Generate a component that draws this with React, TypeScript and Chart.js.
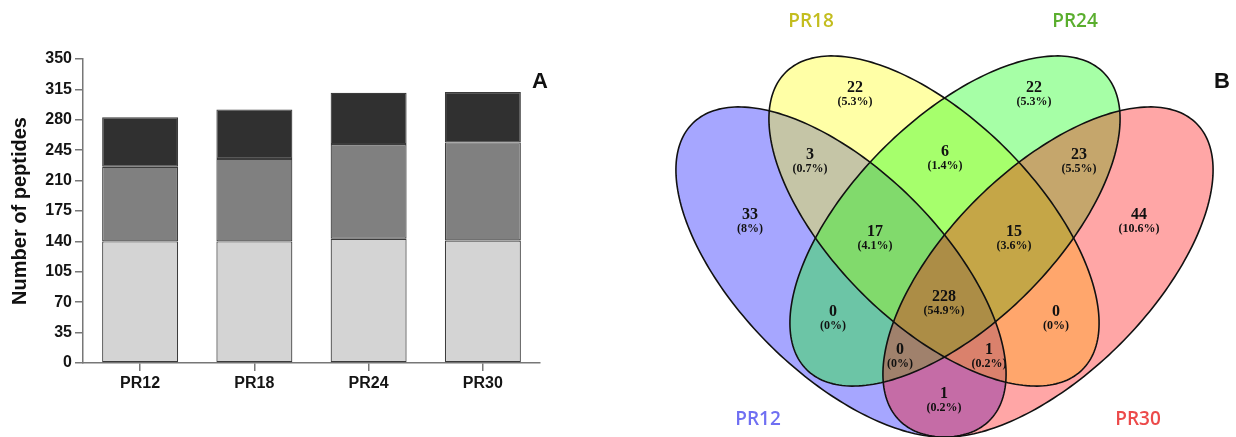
import React, { useEffect, useRef } from "react";
import { Chart, registerables } from "chart.js";

Chart.register(...registerables);

// ---------- Panel A data ----------
const categories = ["PR12", "PR18", "PR24", "PR30"];
const lowerSegment = [140, 140, 143, 141];
const middleSegment = [86, 95, 109, 113];
const upperSegment = [57, 57, 59, 58];
const yTickValues = [0, 35, 70, 105, 140, 175, 210, 245, 280, 315, 350];

// ---------- Panel B data ----------
const vennSetNames = ["PR12", "PR18", "PR24", "PR30"];
// regions: B, Y, G, R, BY, YG, GR, BYG, YGR, BG, BYGR, YR, BGR, BYR, BR
const vennRegionCounts = [33, 22, 22, 44, 3, 6, 23, 17, 15, 0, 228, 0, 0, 1, 1];
const vennRegionPercents = ["8%", "5.3%", "5.3%", "10.6%", "0.7%", "1.4%", "5.5%", "4.1%", "3.6%", "0%", "54.9%", "0%", "0%", "0.2%", "0.2%"];

// ---------- Panel B geometry (page-pixel data space) ----------
const vennLabelPositions = [
  [750, 215], [855, 88], [1034, 88], [1139, 215],
  [810, 155], [945, 152], [1079, 155],
  [875, 232], [1014, 232],
  [833, 312], [944, 297], [1056, 312],
  [900, 350], [989, 350], [944, 394],
];
const ellipseGeometry = [
  { cx: 841, cy: 272, rx: 210, ry: 102, angle: 45 },
  { cx: 934, cy: 221, rx: 210, ry: 102, angle: 45 },
  { cx: 955, cy: 221, rx: 210, ry: 102, angle: -45 },
  { cx: 1048, cy: 272, rx: 210, ry: 102, angle: -45 },
];
const ellipseFills = ["rgba(0,0,255,0.35)", "rgba(255,255,0,0.35)", "rgba(0,255,0,0.35)", "rgba(255,0,0,0.35)"];
const setLabelPositions = [[758, 420], [811, 22], [1075, 22], [1138, 420]];
const setLabelColors = ["#6f6ff2", "#c3bd1e", "#5aae2e", "#ec4a4a"];

const SANS = '"Liberation Sans", Arial, sans-serif';
const SERIF = '"Liberation Serif", "Times New Roman", serif';

const panelLetterA = {
  id: "panelLetterA",
  afterDraw(chart: any) {
    const ctx = chart.ctx;
    ctx.save();
    ctx.font = `bold 22px ${SANS}`;
    ctx.fillStyle = "#111";
    ctx.textAlign = "center";
    ctx.textBaseline = "middle";
    ctx.fillText("A", 540, 82);
    ctx.restore();
  },
};

const vennPlugin = {
  id: "vennPlugin",
  beforeDatasetsDraw(chart: any) {
    const ctx = chart.ctx;
    const xs = chart.scales.x;
    const ys = chart.scales.y;
    const paths = ellipseGeometry.map((g) => {
      const a = (g.angle * Math.PI) / 180;
      const pts: [number, number][] = [];
      for (let i = 0; i <= 240; i++) {
        const t = (i / 240) * Math.PI * 2;
        const dx = g.rx * Math.cos(t) * Math.cos(a) - g.ry * Math.sin(t) * Math.sin(a);
        const dy = g.rx * Math.cos(t) * Math.sin(a) + g.ry * Math.sin(t) * Math.cos(a);
        pts.push([xs.getPixelForValue(g.cx + dx), ys.getPixelForValue(g.cy + dy)]);
      }
      return pts;
    });
    ctx.save();
    paths.forEach((pts, k) => {
      ctx.beginPath();
      pts.forEach((p, i) => (i ? ctx.lineTo(p[0], p[1]) : ctx.moveTo(p[0], p[1])));
      ctx.closePath();
      ctx.fillStyle = ellipseFills[k];
      ctx.fill();
    });
    ctx.strokeStyle = "#111";
    ctx.lineWidth = 1.6;
    paths.forEach((pts) => {
      ctx.beginPath();
      pts.forEach((p, i) => (i ? ctx.lineTo(p[0], p[1]) : ctx.moveTo(p[0], p[1])));
      ctx.closePath();
      ctx.stroke();
    });
    ctx.restore();
  },
  afterDatasetsDraw(chart: any) {
    const ctx = chart.ctx;
    const meta = chart.getDatasetMeta(0);
    ctx.save();
    ctx.textAlign = "center";
    ctx.textBaseline = "middle";
    ctx.fillStyle = "#111";
    meta.data.forEach((el: any, i: number) => {
      ctx.font = `bold 16px ${SERIF}`;
      ctx.fillText(String(vennRegionCounts[i]), el.x, el.y);
      ctx.font = `bold 12px ${SERIF}`;
      ctx.fillText(`(${vennRegionPercents[i]})`, el.x, el.y + 14);
    });
    const xs = chart.scales.x;
    const ys = chart.scales.y;
    ctx.font = `600 19px "Open Sans", ${SANS}`;
    vennSetNames.forEach((name, i) => {
      ctx.fillStyle = setLabelColors[i];
      ctx.fillText(name, xs.getPixelForValue(setLabelPositions[i][0]), ys.getPixelForValue(setLabelPositions[i][1]));
    });
    ctx.fillStyle = "#111";
    ctx.font = `bold 22px ${SANS}`;
    ctx.fillText("B", xs.getPixelForValue(1222), ys.getPixelForValue(82));
    ctx.restore();
  },
};

export default function App() {
  const barRef = useRef<HTMLCanvasElement | null>(null);
  const vennRef = useRef<HTMLCanvasElement | null>(null);

  useEffect(() => {
    const axisColor = "#777";
    const tickFont = { family: SANS, size: 16, weight: "bold" as const };
    const barCommon = { borderColor: "#3c3c3c", borderWidth: 1.2, borderSkipped: false, barPercentage: 0.665, categoryPercentage: 1 };
    const bar = new Chart(barRef.current as HTMLCanvasElement, {
      type: "bar",
      data: {
        labels: categories,
        datasets: [
          { data: lowerSegment, backgroundColor: "#d4d4d4", ...barCommon },
          { data: middleSegment, backgroundColor: "#808080", ...barCommon },
          { data: upperSegment, backgroundColor: "#303030", ...barCommon },
        ],
      },
      options: {
        animation: false,
        responsive: false,
        layout: { padding: { top: 59, right: 60, left: 0, bottom: 0 } },
        plugins: { legend: { display: false }, tooltip: { enabled: false } },
        scales: {
          x: {
            stacked: true,
            grid: { drawOnChartArea: false, drawTicks: true, tickLength: 8, offset: false, color: axisColor, lineWidth: 1.5 },
            border: { display: true, color: axisColor, width: 1.5 },
            ticks: { font: tickFont, color: "#151515", padding: 3 },
            afterFit: (s: any) => { s.height = 74; },
          },
          y: {
            stacked: true,
            min: 0,
            max: 350,
            grid: { drawOnChartArea: false, drawTicks: true, tickLength: 8, color: axisColor, lineWidth: 1.5 },
            border: { display: true, color: axisColor, width: 1.5 },
            ticks: { font: tickFont, color: "#151515", padding: 3, stepSize: 35 },
            afterBuildTicks: (s: any) => { s.ticks = yTickValues.map((v) => ({ value: v })); },
            title: { display: true, text: "Number of peptides", font: { family: SANS, size: 20, weight: "bold" }, color: "#111", padding: { top: 8, bottom: 4 } },
            afterFit: (s: any) => { s.width = 83; },
          },
        },
      } as any,
      plugins: [panelLetterA],
    });

    const venn = new Chart(vennRef.current as HTMLCanvasElement, {
      type: "scatter",
      data: {
        datasets: [
          { data: vennLabelPositions.map((p) => ({ x: p[0], y: p[1] })), pointRadius: 0, showLine: false },
        ],
      },
      options: {
        animation: false,
        responsive: false,
        layout: { padding: 0 },
        plugins: { legend: { display: false }, tooltip: { enabled: false } },
        scales: {
          x: { type: "linear", min: 600, max: 1236, display: false },
          y: { type: "linear", min: 0, max: 437, reverse: true, display: false },
        },
      } as any,
      plugins: [vennPlugin],
    });

    return () => {
      bar.destroy();
      venn.destroy();
    };
  }, []);

  return (
    <div style={{ position: "fixed", left: 0, top: 0, width: 1236, height: 437, background: "#fff" }}>
      <canvas ref={barRef} width={600} height={437} style={{ position: "absolute", left: 0, top: 0 }} />
      <canvas ref={vennRef} width={636} height={437} style={{ position: "absolute", left: 600, top: 0 }} />
    </div>
  );
}
